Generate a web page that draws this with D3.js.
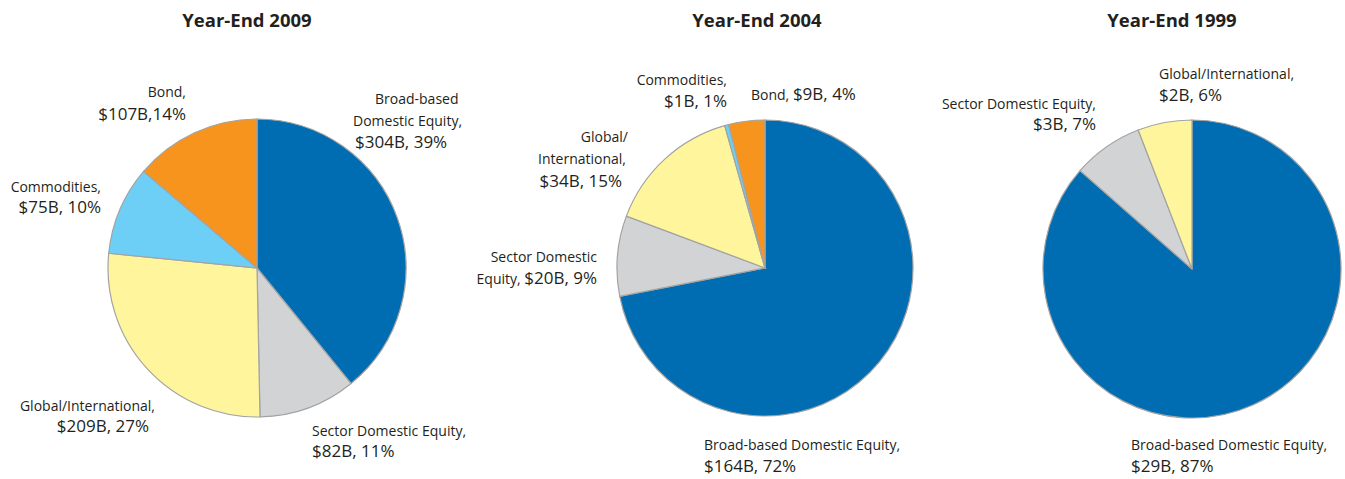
<!DOCTYPE html>
<html>
<head>
<meta charset="utf-8">
<script src="https://cdn.jsdelivr.net/npm/d3@7"></script>
<style>
  body { margin: 0; background: #fff; }
  svg { display: block; }
  text { font-family: "Open Sans", "Noto Sans", sans-serif; fill: #231f20; }
  .title { font-weight: bold; font-size: 18.5px; }
  .name { font-size: 14px; }
  .val { font-size: 17px; }
</style>
</head>
<body>
<svg id="chart" width="1345" height="479"></svg>
<script>
const categories = ['Broad-based Domestic Equity', 'Sector Domestic Equity', 'Global/International', 'Commodities', 'Bond'];
const colors = ['#006cb1', '#d1d3d4', '#fff59d', '#6dcff6', '#f7941d'];

// $B, year-end totals
const values2009 = [304, 82, 209, 75, 107];
const values2004 = [164, 20, 34, 1, 9];
const values1999 = [29.4, 2.6, 2.0];

const titles = ['Year-End 2009', 'Year-End 2004', 'Year-End 1999'];

// label lines: [small name part, larger value part]
const labels2009 = [
  [['Broad-based', ''], ['Domestic Equity,', ''], ['', '$304B, 39%']],
  [['Sector Domestic Equity,', ''], ['', '$82B, 11%']],
  [['Global/International,', ''], ['', '$209B, 27%']],
  [['Commodities,', ''], ['', '$75B, 10%']],
  [['Bond,', ''], ['', '$107B,14%']]
];
const labels2004 = [
  [['Broad-based Domestic Equity,', ''], ['', '$164B, 72%']],
  [['Sector Domestic', ''], ['Equity, ', '$20B, 9%']],
  [['Global/', ''], ['International,', ''], ['', '$34B, 15%']],
  [['Commodities,', ''], ['', '$1B, 1%']],
  [['Bond, ', '$9B, 4%']]
];
const labels1999 = [
  [['Broad-based Domestic Equity,', ''], ['', '$29B, 87%']],
  [['Sector Domestic Equity,', ''], ['', '$3B, 7%']],
  [['Global/International,', ''], ['', '$2B, 6%']]
];

// layout for each pie and its labels
const charts = [
  { title: titles[0], tx: 247, cx: 257, cy: 268, r: 149, values: values2009, labels: labels2009,
    pos: [
      { x: [375, 353, 355], y: [104, 126, 148], anchor: 'start' },
      { x: 312, y: [436, 457], anchor: 'start' },
      { x: 155, y: [411, 432], anchor: 'end', xs: [155, 149] },
      { x: 101, y: [192, 213], anchor: 'end' },
      { x: 186, y: [97, 120], anchor: 'end' }
    ] },
  { title: titles[1], tx: 757, cx: 765, cy: 268, r: 148, values: values2004, labels: labels2004,
    pos: [
      { x: 704, y: [450, 472], anchor: 'start' },
      { x: 597, y: [262, 284], anchor: 'end' },
      { x: 627, y: [142, 164, 187], anchor: 'end', xs: [628, 626, 622] },
      { x: 727, y: [85, 107], anchor: 'end' },
      { x: 751, y: [100], anchor: 'start' }
    ] },
  { title: titles[2], tx: 1172, cx: 1192, cy: 269, r: 149, values: values1999, labels: labels1999,
    pos: [
      { x: 1131, y: [450, 472], anchor: 'start' },
      { x: 1096, y: [109, 130], anchor: 'end' },
      { x: 1159, y: [79, 101], anchor: 'start' }
    ] }
];

const svg = d3.select('svg#chart');
const pie = d3.pie().sort(null).value(d => d);

charts.forEach((c) => {
  svg.append('text')
    .attr('class', 'title')
    .attr('x', c.tx)
    .attr('y', 27)
    .attr('text-anchor', 'middle')
    .text(c.title);

  const arc = d3.arc().innerRadius(0).outerRadius(c.r);
  const g = svg.append('g').attr('transform', `translate(${c.cx},${c.cy})`);

  g.selectAll('path').data(pie(c.values))
    .enter().append('path')
      .attr('d', arc)
      .style('fill', (d, i) => colors[i])
      .style('stroke', '#a3a3a3')
      .style('stroke-width', 1.2);

  c.labels.forEach((lines, i) => {
    const p = c.pos[i];
    lines.forEach((line, j) => {
      const x = Array.isArray(p.x) ? p.x[j] : (p.xs ? p.xs[j] : p.x);
      const t = svg.append('text')
        .attr('x', x)
        .attr('y', p.y[j])
        .attr('text-anchor', p.anchor);
      if (line[0]) t.append('tspan').attr('class', 'name').text(line[0]);
      if (line[1]) t.append('tspan').attr('class', 'val').text(line[1]);
    });
  });
});
</script>
</body>
</html>
